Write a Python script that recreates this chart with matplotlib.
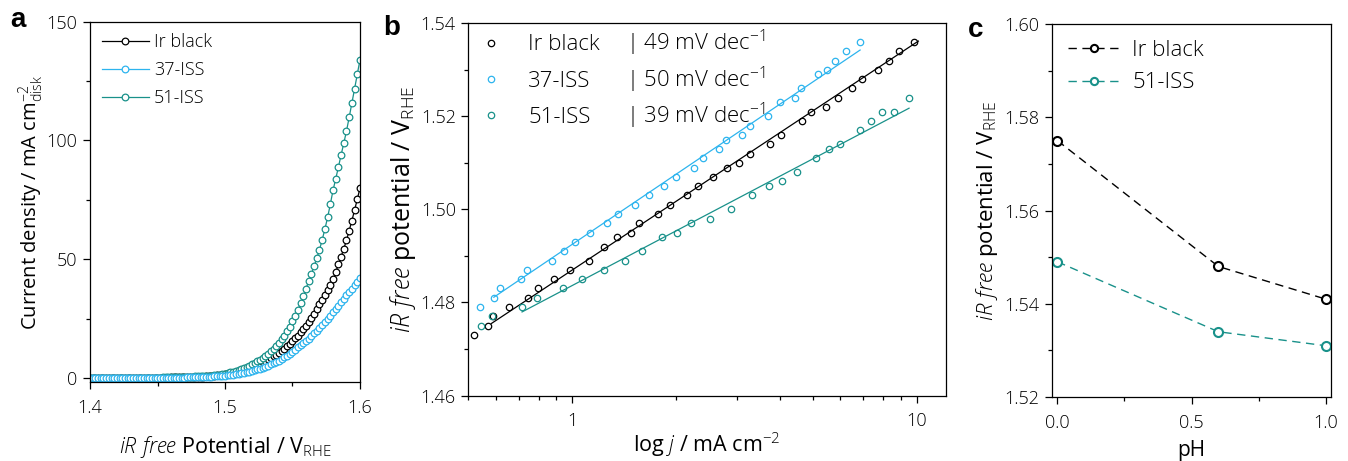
import numpy as np
import matplotlib
matplotlib.use("Agg")
import matplotlib.pyplot as plt
from matplotlib.ticker import MultipleLocator, LogLocator, NullFormatter, FixedLocator, FixedFormatter

plt.rcParams["font.family"] = ["Open Sans", "DejaVu Sans"]
plt.rcParams["font.weight"] = "light"
plt.rcParams["mathtext.fontset"] = "custom"
plt.rcParams["mathtext.rm"] = "Open Sans:light"
plt.rcParams["mathtext.it"] = "Open Sans:italic:light"
plt.rcParams["mathtext.bf"] = "Open Sans:bold"
plt.rcParams["axes.linewidth"] = 0.9

BLACK = "#000000"
BLUE = "#2DB4EE"
TEAL = "#19918A"

# ---------------- (a) polarisation curves ----------------
potential = np.round(np.arange(1.400, 1.6001, 0.002), 3)

j_ir_black = [
    0.00, 0.00, 0.01, 0.01, 0.01, 0.02, 0.02, 0.02, 0.03, 0.03,
    0.04, 0.04, 0.05, 0.05, 0.06, 0.07, 0.07, 0.08, 0.09, 0.10,
    0.11, 0.12, 0.13, 0.14, 0.15, 0.16, 0.17, 0.18, 0.20, 0.21,
    0.23, 0.25, 0.27, 0.29, 0.31, 0.34, 0.37, 0.40, 0.43, 0.46,
    0.50, 0.56, 0.63, 0.71, 0.80, 0.90, 1.01, 1.13, 1.27, 1.43,
    1.60, 1.78, 1.98, 2.20, 2.44, 2.70, 3.00, 3.33, 3.70, 4.10,
    4.50, 4.98, 5.50, 6.05, 6.62, 7.20, 7.82, 8.45, 9.10, 9.78,
    10.5, 11.4, 12.3, 13.3, 14.4, 15.5, 16.7, 17.9, 19.2, 20.5,
    21.8, 23.5, 25.3, 27.1, 29.0, 31.0, 33.0, 35.0, 37.1, 39.3,
    41.5, 44.6, 47.8, 51.1, 54.5, 58.0, 62.1, 66.3, 70.7, 75.3,
    80.0,
]
j_37_iss = [
    0.00, 0.00, 0.00, 0.00, 0.01, 0.01, 0.01, 0.01, 0.02, 0.02,
    0.02, 0.03, 0.03, 0.03, 0.04, 0.04, 0.05, 0.05, 0.06, 0.06,
    0.07, 0.07, 0.08, 0.09, 0.10, 0.11, 0.12, 0.13, 0.14, 0.15,
    0.16, 0.17, 0.18, 0.19, 0.21, 0.22, 0.24, 0.26, 0.28, 0.30,
    0.32, 0.36, 0.41, 0.46, 0.52, 0.58, 0.65, 0.72, 0.80, 0.89,
    1.00, 1.13, 1.28, 1.44, 1.61, 1.80, 2.01, 2.23, 2.47, 2.72,
    3.00, 3.30, 3.62, 3.96, 4.32, 4.85, 5.25, 5.70, 6.20, 6.72,
    7.30, 7.98, 8.68, 9.42, 10.2, 11.1, 12.0, 12.9, 13.8, 14.7,
    15.6, 16.6, 17.7, 18.8, 19.9, 21.0, 22.3, 23.6, 24.9, 26.2,
    27.6, 29.0, 30.4, 31.9, 33.3, 34.8, 36.2, 37.6, 39.0, 40.5,
    42.0,
]
j_51_iss = [
    0.00, 0.00, 0.01, 0.01, 0.02, 0.02, 0.03, 0.03, 0.04, 0.04,
    0.05, 0.06, 0.07, 0.08, 0.09, 0.10, 0.11, 0.12, 0.13, 0.14,
    0.15, 0.16, 0.17, 0.18, 0.19, 0.20, 0.22, 0.24, 0.26, 0.28,
    0.30, 0.33, 0.36, 0.39, 0.42, 0.45, 0.50, 0.55, 0.60, 0.65,
    0.70, 0.76, 0.82, 0.88, 0.94, 1.00, 1.13, 1.27, 1.42, 1.60,
    1.80, 2.07, 2.35, 2.67, 3.02, 3.40, 3.80, 4.25, 4.72, 5.25,
    5.80, 6.40, 7.05, 7.75, 8.55, 9.40, 10.3, 11.3, 12.4, 13.6,
    14.8, 16.3, 17.9, 19.7, 21.6, 23.8, 26.2, 28.7, 31.4, 34.4,
    37.6, 40.8, 43.9, 47.1, 50.5, 54.0, 58.2, 62.7, 67.6, 73.1,
    79.0, 83.8, 88.8, 93.9, 98.9, 104.0, 109.8, 115.8, 121.8, 127.9,
    134.0,
]

# ---------------- (b) Tafel data ----------------
tafel_j_ir = [0.519, 0.571, 0.589, 0.655, 0.744, 0.795, 0.889, 0.989, 1.123, 1.235,
              1.350, 1.486, 1.567, 1.776, 1.919, 2.154, 2.313, 2.563, 2.813, 3.042,
              3.287, 3.757, 4.035, 4.642, 4.941, 5.461, 5.902, 6.494, 6.958, 7.743,
              8.296, 8.908, 9.824]
tafel_E_ir = [1.473, 1.475, 1.477, 1.479, 1.481, 1.483, 1.485, 1.487, 1.489, 1.492,
              1.494, 1.495, 1.497, 1.499, 1.501, 1.503, 1.505, 1.507, 1.509, 1.510,
              1.512, 1.514, 1.516, 1.519, 1.521, 1.522, 1.524, 1.526, 1.528, 1.530,
              1.532, 1.534, 1.536]
tafel_j_37 = [0.542, 0.593, 0.620, 0.713, 0.739, 0.875, 0.946, 1.018, 1.125, 1.263,
              1.359, 1.519, 1.672, 1.844, 2.002, 2.262, 2.392, 2.668, 2.802, 3.111,
              3.273, 3.691, 3.999, 4.420, 4.611, 5.154, 5.485, 5.812, 6.240, 6.823]
tafel_E_37 = [1.479, 1.481, 1.483, 1.485, 1.487, 1.489, 1.491, 1.493, 1.495, 1.497,
              1.499, 1.501, 1.503, 1.505, 1.507, 1.509, 1.511, 1.513, 1.515, 1.516,
              1.518, 1.520, 1.523, 1.524, 1.526, 1.529, 1.530, 1.532, 1.534, 1.536]
tafel_j_51 = [0.545, 0.584, 0.716, 0.792, 0.939, 1.069, 1.235, 1.421, 1.596, 1.823,
              2.015, 2.218, 2.506, 2.890, 3.325, 3.733, 4.062, 4.509, 5.096, 5.583,
              5.996, 6.823, 7.356, 7.917, 8.615, 9.502]
tafel_E_51 = [1.475, 1.477, 1.479, 1.481, 1.483, 1.485, 1.487, 1.489, 1.491, 1.494,
              1.495, 1.497, 1.498, 1.500, 1.503, 1.505, 1.506, 1.508, 1.511, 1.513,
              1.514, 1.517, 1.519, 1.521, 1.521, 1.524]
tafel_slopes_mV = [49, 50, 39]
fit_ranges = [(0.584, 10.11), (0.593, 6.85), (0.716, 9.50)]

# ---------------- (c) pH dependence ----------------
ph_values = [0.0, 0.6, 1.0]
ph_E_ir = [1.575, 1.548, 1.541]
ph_E_51 = [1.549, 1.534, 1.531]

names = ["Ir black", "37-ISS", "51-ISS"]
colors = [BLACK, BLUE, TEAL]

W, H = 1348, 461
fig = plt.figure(figsize=(W / 100, H / 100), dpi=100)
axa = fig.add_axes([90 / W, 1 - 382.3 / H, 270 / W, 360.6 / H])
axb = fig.add_axes([468.3 / W, 1 - 395.5 / H, 477.7 / W, 372.2 / H])
axc = fig.add_axes([1052 / W, 1 - 397 / H, 279 / W, 373 / H])

TICK_FS = 13
for ax in (axa, axb, axc):
    ax.tick_params(which="both", direction="out", top=False, right=False,
                   labelsize=TICK_FS, width=0.9)
    ax.tick_params(which="major", length=5)
    ax.tick_params(which="minor", length=3)
    ax.tick_params(axis="x", which="both", pad=7)
    ax.tick_params(axis="y", which="both", pad=4)

# ---- panel a
curves = [j_ir_black, j_37_iss, j_51_iss]
handles_a = {}
for idx in (0, 2, 1):
    h, = axa.plot(potential, curves[idx], "-o", color=colors[idx], lw=0.9,
                  ms=4.8, mew=0.9, mfc="white", label=names[idx])
    handles_a[idx] = h
axa.set_xlim(1.4, 1.6)
axa.set_ylim(-1.8, 150)
axa.xaxis.set_major_locator(FixedLocator([1.4, 1.5, 1.6]))
axa.xaxis.set_major_formatter(FixedFormatter(["1.4", "1.5", "1.6"]))
axa.xaxis.set_minor_locator(MultipleLocator(0.05))
axa.yaxis.set_major_locator(MultipleLocator(50))
axa.yaxis.set_minor_locator(MultipleLocator(25))
axa.set_xlabel(r"$\mathit{iR\ free}$ Potential / V$_{\mathrm{RHE}}$", fontsize=15.5, labelpad=12.5)
axa.set_ylabel(r"Current density / mA cm$^{-2}_{\mathrm{disk}}$", fontsize=14.5, labelpad=1.5)
axa.legend([handles_a[i] for i in range(3)], names, loc="upper left", frameon=False,
           fontsize=13, handlelength=2.6, handletextpad=0.3, labelspacing=0.55,
           borderaxespad=0.45, borderpad=0.2)

# ---- panel b
tafel_j = [tafel_j_ir, tafel_j_37, tafel_j_51]
tafel_E = [tafel_E_ir, tafel_E_37, tafel_E_51]
handles_b = []
for k in range(3):
    jj = np.asarray(tafel_j[k])
    ee = np.asarray(tafel_E[k])
    h, = axb.plot(jj, ee, "o", ls="none", color=colors[k], ms=4.6, mew=0.9,
                  mfc="none", label=names[k])
    handles_b.append(h)
    lo, hi = fit_ranges[k]
    sel = (jj >= lo) & (jj <= hi)
    slope = tafel_slopes_mV[k] / 1000.0
    intercept = np.mean(ee[sel] - slope * np.log10(jj[sel]))
    jfit = np.array([lo, hi])
    axb.plot(jfit, intercept + slope * np.log10(jfit), "-", color=colors[k], lw=0.9)
axb.set_xscale("log")
axb.set_xlim(0.5, 12.16)
axb.set_ylim(1.46, 1.54)
axb.xaxis.set_major_locator(FixedLocator([1, 10]))
axb.xaxis.set_major_formatter(FixedFormatter(["1", "10"]))
axb.xaxis.set_minor_locator(LogLocator(base=10, subs=np.arange(2, 10), numticks=20))
axb.xaxis.set_minor_formatter(NullFormatter())
axb.yaxis.set_major_locator(MultipleLocator(0.02))
axb.yaxis.set_minor_locator(MultipleLocator(0.01))
axb.yaxis.set_major_formatter(plt.FuncFormatter(lambda v, p: f"{v:.2f}"))
axb.set_xlabel(r"log $\mathit{j}$ / mA cm$^{-2}$", fontsize=15.5, labelpad=0.5)
axb.set_ylabel(r"$\mathit{iR\ free}$ potential / V$_{\mathrm{RHE}}$", fontsize=18, labelpad=2)
leg_b = axb.legend(handles_b, names, loc="upper left", frameon=False, fontsize=16,
                   handlelength=1.0, handletextpad=1.2, labelspacing=0.69,
                   borderaxespad=0.2, borderpad=0.3)

# ---- panel c
hc1, = axc.plot(ph_values, ph_E_ir, ls=(0, (6, 4)), color=BLACK, lw=1.0, marker="o",
                ms=6.5, mew=1.5, mfc="white", label="Ir black")
hc2, = axc.plot(ph_values, ph_E_51, ls=(0, (6, 4)), color=TEAL, lw=1.0, marker="o",
                ms=6.5, mew=1.5, mfc="white", label="51-ISS")
axc.set_xlim(-0.02, 1.02)
axc.set_ylim(1.52, 1.60)
axc.xaxis.set_major_locator(MultipleLocator(0.5))
axc.xaxis.set_minor_locator(MultipleLocator(0.25))
axc.xaxis.set_major_formatter(plt.FuncFormatter(lambda v, p: f"{v:.1f}"))
axc.yaxis.set_major_locator(MultipleLocator(0.02))
axc.yaxis.set_minor_locator(MultipleLocator(0.01))
axc.yaxis.set_major_formatter(plt.FuncFormatter(lambda v, p: f"{v:.2f}"))
axc.set_xlabel("pH", fontsize=15, labelpad=6)
axc.set_ylabel(r"$\mathit{iR\ free}$ potential / V$_{\mathrm{RHE}}$", fontsize=16, labelpad=3)
axc.legend([hc1, hc2], ["Ir black", "51-ISS"], loc="upper left", frameon=False, fontsize=16,
           handlelength=2.4, handletextpad=0.5, labelspacing=0.53, markerscale=0.8,
           borderaxespad=0.4, borderpad=0.3)

# panel letters
for x, y, s in [(18, 20, "a"), (392, 28, "b"), (976, 30, "c")]:
    fig.text(x / W, 1 - y / H, s, fontsize=20, fontweight="bold",
             family=["Liberation Sans", "DejaVu Sans"], ha="center", va="center")

# second legend column of panel b: Tafel slopes, on the baseline of each entry
fig.canvas.draw()
to_axes = axb.transAxes.inverted()
for t, s in zip(leg_b.get_texts(), tafel_slopes_mV):
    base = t.get_transform().transform(t.get_position())
    _, yb = to_axes.transform(base)
    axb.text(0.331, yb, f"| {s} mV dec$^{{-1}}$", transform=axb.transAxes,
             va="baseline", ha="left", fontsize=16)

fig.savefig("out.png", dpi=100)
